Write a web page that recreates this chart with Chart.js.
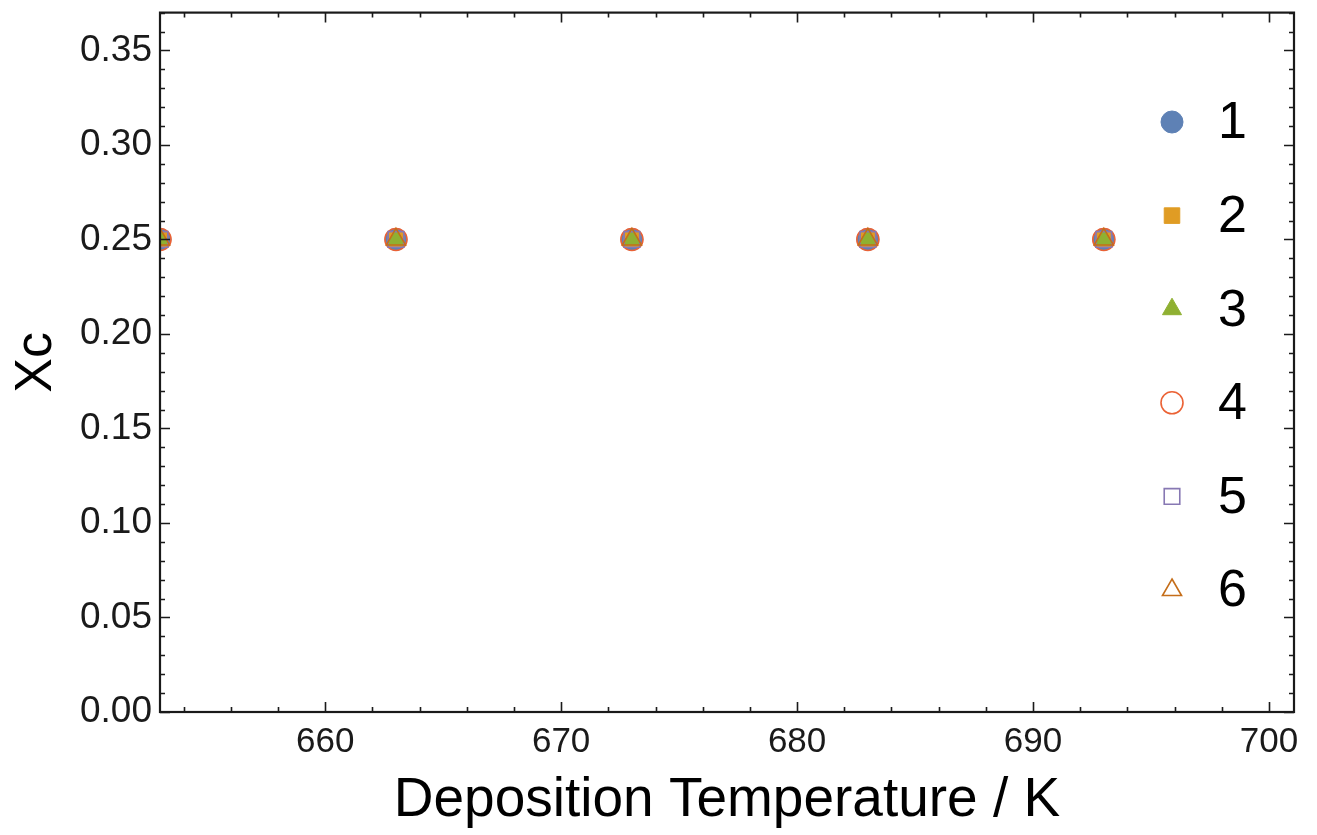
<!DOCTYPE html>
<html>
<head>
<meta charset="utf-8">
<script src="https://cdn.jsdelivr.net/npm/chart.js@4.4.0/dist/chart.umd.min.js"></script>
<style>
  html, body { margin: 0; padding: 0; background: #fff; }
  #wrap { position: relative; width: 1317px; height: 835px; }
</style>
</head>
<body>
<div id="wrap"><canvas id="chart"></canvas></div>
<script>
// data
const temperatures = [653, 663, 673, 683, 693];
const series1 = [0.25, 0.25, 0.25, 0.25, 0.25];
const series2 = [0.25, 0.25, 0.25, 0.25, 0.25];
const series3 = [0.25, 0.25, 0.25, 0.25, 0.25];
const series4 = [0.25, 0.25, 0.25, 0.25, 0.25];
const series5 = [0.25, 0.25, 0.25, 0.25, 0.25];
const series6 = [0.25, 0.25, 0.25, 0.25, 0.25];
const seriesNames = ["1", "2", "3", "4", "5", "6"];

const xTicks = [660, 670, 680, 690, 700];
const yTicks = [0, 0.05, 0.10, 0.15, 0.20, 0.25, 0.30, 0.35];

// mathematica default palette
const colors = ["#5E81B5", "#E09C24", "#8FB032", "#EB6235", "#8778B3", "#C56E1A"];
const styles = ["circle", "rect", "triangle", "circle", "rect", "triangle"];
const filled = [true, true, true, false, false, false];

const allSeries = [series1, series2, series3, series4, series5, series6];

const FONT = "'Liberation Sans', Arial, sans-serif";
const FRAME = "#1a1a1a";

const datasets = allSeries.map((vals, i) => ({
  label: seriesNames[i],
  data: temperatures.map((t, k) => ({ x: t, y: vals[k] })),
  order: allSeries.length - i, // later series drawn on top, like the original
  pointStyle: styles[i],
  pointRadius: 11,
  pointHoverRadius: 11,
  pointBackgroundColor: filled[i] ? colors[i] : "rgba(0,0,0,0)",
  pointBorderColor: colors[i],
  pointBorderWidth: filled[i] ? 1 : 1.6,
  showLine: false
}));

// frame, inward ticks on all four sides, and the in-plot legend
const framePlugin = {
  id: "frame",
  afterDraw(chart) {
    const { ctx, chartArea: a, scales } = chart;
    const xs = scales.x, ys = scales.y;
    ctx.save();
    ctx.strokeStyle = FRAME;
    ctx.lineWidth = 2.2;
    ctx.strokeRect(a.left, a.top, a.right - a.left, a.bottom - a.top);

    ctx.lineWidth = 1.6;
    // x ticks every 2, major every 10
    for (let v = Math.ceil(xs.min / 2) * 2; v <= xs.max; v += 2) {
      const px = Math.round(xs.getPixelForValue(v)) + 0.5;
      const len = v % 10 === 0 ? 10 : 5;
      ctx.beginPath();
      ctx.moveTo(px, a.bottom); ctx.lineTo(px, a.bottom - len);
      ctx.moveTo(px, a.top); ctx.lineTo(px, a.top + len);
      ctx.stroke();
    }
    // y ticks every 0.01, major every 0.05
    for (let k = 0; k / 100 <= ys.max + 1e-9; k++) {
      const py = Math.round(ys.getPixelForValue(k / 100)) + 0.5;
      const len = k % 5 === 0 ? 10 : 5;
      ctx.beginPath();
      ctx.moveTo(a.left, py); ctx.lineTo(a.left + len, py);
      ctx.moveTo(a.right, py); ctx.lineTo(a.right - len, py);
      ctx.stroke();
    }

    // legend
    const lx = 1172, ly0 = 122, dy = 93.6;
    seriesNames.forEach((name, i) => {
      const y = ly0 + i * dy;
      const bw = filled[i] ? 1 : 1.6;
      ctx.fillStyle = filled[i] ? colors[i] : "rgba(0,0,0,0)";
      ctx.strokeStyle = colors[i];
      ctx.lineWidth = bw;
      Chart.helpers.drawPoint(ctx, {
        pointStyle: styles[i], radius: 11, rotation: 0, borderWidth: bw
      }, lx, y);
      ctx.fillStyle = "#000";
      ctx.font = "52px " + FONT;
      ctx.textAlign = "left";
      ctx.textBaseline = "middle";
      ctx.fillText(name, 1218, y + 2);
    });
    ctx.restore();
  }
};

new Chart(document.getElementById("chart"), {
  type: "scatter",
  data: { datasets },
  options: {
    responsive: true,
    maintainAspectRatio: false,
    animation: false,
    events: [],
    layout: { padding: { left: 0, top: 10, right: 23, bottom: 0 } },
    plugins: { legend: { display: false }, tooltip: { enabled: false } },
    scales: {
      x: {
        type: "linear",
        min: 653,
        max: 701.06,
        grid: { display: false, drawTicks: false },
        border: { display: false },
        afterBuildTicks: s => { s.ticks = xTicks.map(v => ({ value: v })); },
        afterFit: s => { s.height = 123; s.paddingLeft = 0; s.paddingRight = 0; },
        ticks: {
          color: "#1a1a1a",
          font: { family: FONT, size: 35 },
          padding: 9,
          maxRotation: 0,
          callback: v => String(v)
        },
        title: {
          display: true,
          text: "Deposition Temperature / K",
          color: "#000",
          font: { family: FONT, size: 55 },
          padding: { top: 0, bottom: 1 }
        }
      },
      y: {
        type: "linear",
        min: 0,
        max: 0.37,
        grid: { display: false, drawTicks: false },
        border: { display: false },
        afterBuildTicks: s => { s.ticks = yTicks.map(v => ({ value: v })); },
        afterFit: s => { s.width = 160; s.paddingTop = 0; s.paddingBottom = 0; },
        ticks: {
          color: "#1a1a1a",
          font: { family: FONT, size: 37 },
          padding: 8,
          callback: v => Number(v).toFixed(2)
        },
        title: {
          display: true,
          text: "Xc",
          color: "#000",
          font: { family: FONT, size: 52 },
          padding: { top: 5, bottom: 0 }
        }
      }
    }
  },
  plugins: [framePlugin]
});
</script>
</body>
</html>
